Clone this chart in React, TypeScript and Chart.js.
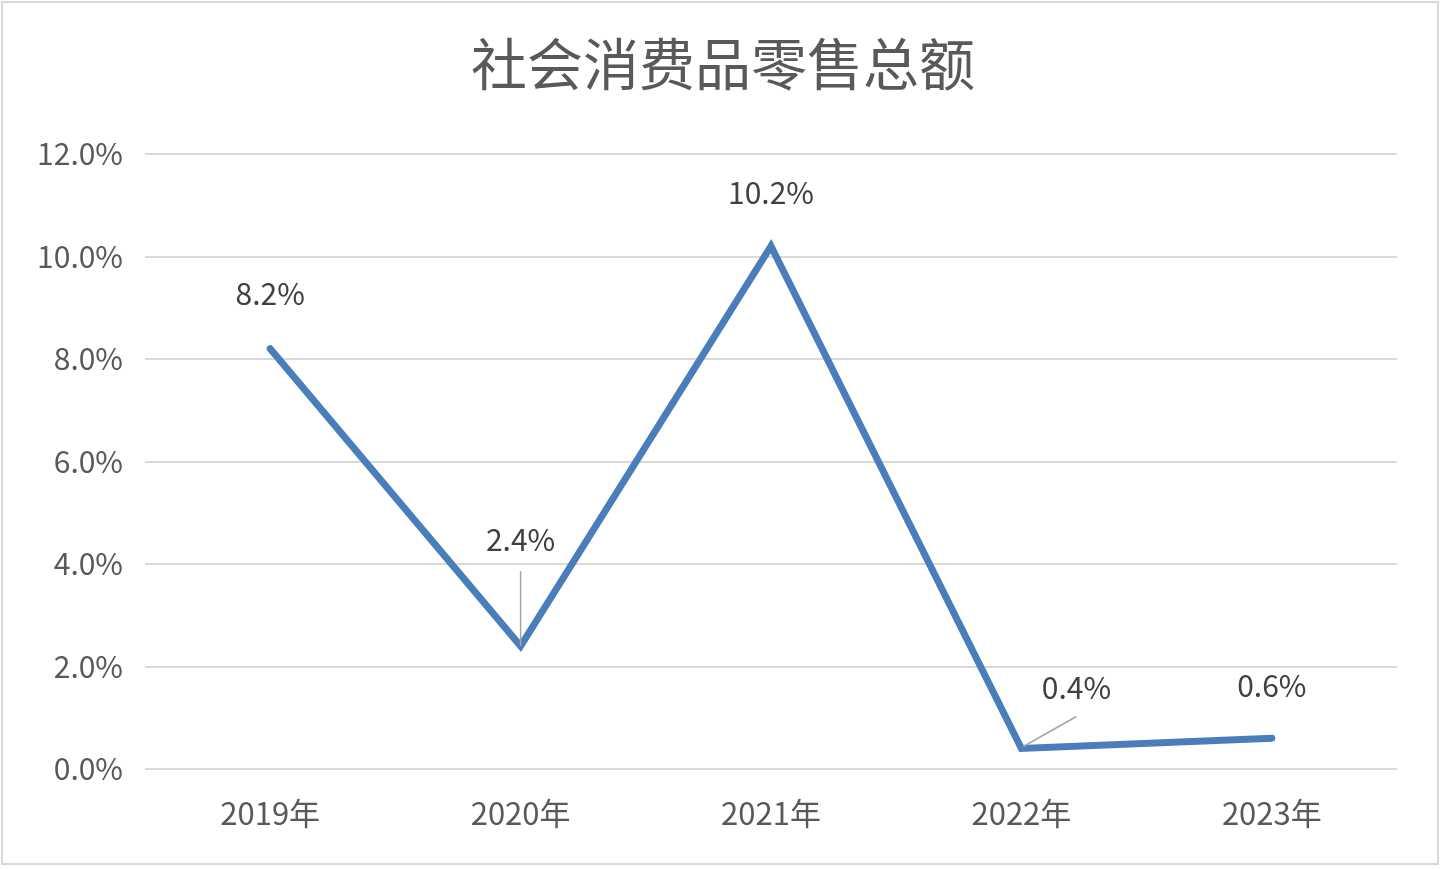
import React, { useEffect, useRef } from "react";
import { Chart, registerables } from "chart.js";

Chart.register(...registerables);

const title = "社会消费品零售总额";
const categories = ["2019年", "2020年", "2021年", "2022年", "2023年"];
const growth = [8.2, 2.4, 10.2, 0.4, 0.6];
const valueLabels = ["8.2%", "2.4%", "10.2%", "0.4%", "0.6%"];

const FONT = "'Noto Sans CJK SC', 'Noto Sans', sans-serif";
const TEXT = "#595959";

// label offsets relative to each point (dx, dy) and whether a leader line is shown
const labelPlacement = [
  { dx: 0, dy: -55, leader: false },
  { dx: 0, dy: -106, leader: true },
  { dx: 0, dy: -54, leader: false },
  { dx: 55, dy: -61, leader: true },
  { dx: 0, dy: -53, leader: false },
];

const decorPlugin = {
  id: "decor",
  afterDatasetsDraw(chart: any) {
    const ctx = chart.ctx;
    const meta = chart.getDatasetMeta(0);
    ctx.save();
    // title
    ctx.fillStyle = TEXT;
    ctx.font = `56px ${FONT}`;
    ctx.textAlign = "center";
    ctx.textBaseline = "middle";
    ctx.fillText(title, 723, 64);
    // data labels
    ctx.font = `30px ${FONT}`;
    meta.data.forEach((pt: any, i: number) => {
      const p = labelPlacement[i];
      const lx = pt.x + p.dx;
      const ly = pt.y + p.dy;
      if (p.leader) {
        ctx.strokeStyle = "#a6a6a6";
        ctx.lineWidth = 1.5;
        ctx.beginPath();
        if (p.dx === 0) {
          ctx.moveTo(pt.x, pt.y);
          ctx.lineTo(pt.x, ly + 31);
        } else {
          ctx.moveTo(pt.x + 2, pt.y - 2);
          ctx.lineTo(lx, ly + 29);
        }
        ctx.stroke();
      }
      ctx.fillStyle = "#404040";
      ctx.fillText(valueLabels[i], lx, ly);
    });
    ctx.restore();
  },
};

export default function App() {
  const ref = useRef<HTMLCanvasElement>(null);
  useEffect(() => {
    const chart = new Chart(ref.current!, {
      type: "line",
      data: {
        labels: categories,
        datasets: [
          {
            data: growth,
            borderColor: "#4a7ebb",
            borderWidth: 7,
            borderCapStyle: "round",
            borderJoinStyle: "miter",
            pointRadius: 0,
            tension: 0,
            fill: false,
          },
        ],
      },
      options: {
        animation: false,
        responsive: false,
        devicePixelRatio: 1,
        layout: { padding: { top: 154, right: 49, left: 0, bottom: 0 } },
        plugins: {
          legend: { display: false },
          tooltip: { enabled: false },
          title: { display: false },
        },
        scales: {
          x: {
            offset: true,
            grid: { display: false, drawTicks: false },
            border: { display: false },
            ticks: {
              color: TEXT,
              font: { family: FONT, size: 31 },
              padding: 26,
              maxRotation: 0,
            },
            afterFit: (s: any) => {
              s.height = 101;
            },
          },
          y: {
            min: 0,
            max: 12,
            ticks: {
              stepSize: 2,
              color: TEXT,
              font: { family: FONT, size: 30 },
              padding: 22,
              callback: (v: any) => Number(v).toFixed(1) + "%",
            },
            grid: { color: "#d9d9d9", lineWidth: 2, drawTicks: false },
            border: { display: false },
            afterFit: (s: any) => {
              s.width = 145;
            },
          },
        },
      },
      plugins: [decorPlugin],
    } as any);
    return () => chart.destroy();
  }, []);
  return (
    <div
      style={{
        position: "absolute",
        left: 0,
        top: 0,
        width: 1446,
        height: 870,
        background: "#fff",
      }}
    >
      <div
        style={{
          position: "absolute",
          left: 1,
          top: 1,
          width: 1438,
          height: 864,
          border: "2px solid #d9d9d9",
          boxSizing: "border-box",
          pointerEvents: "none",
          zIndex: 1,
        }}
      />
      <canvas ref={ref} width={1446} height={870} style={{ position: "absolute", left: 0, top: 0 }} />
    </div>
  );
}
